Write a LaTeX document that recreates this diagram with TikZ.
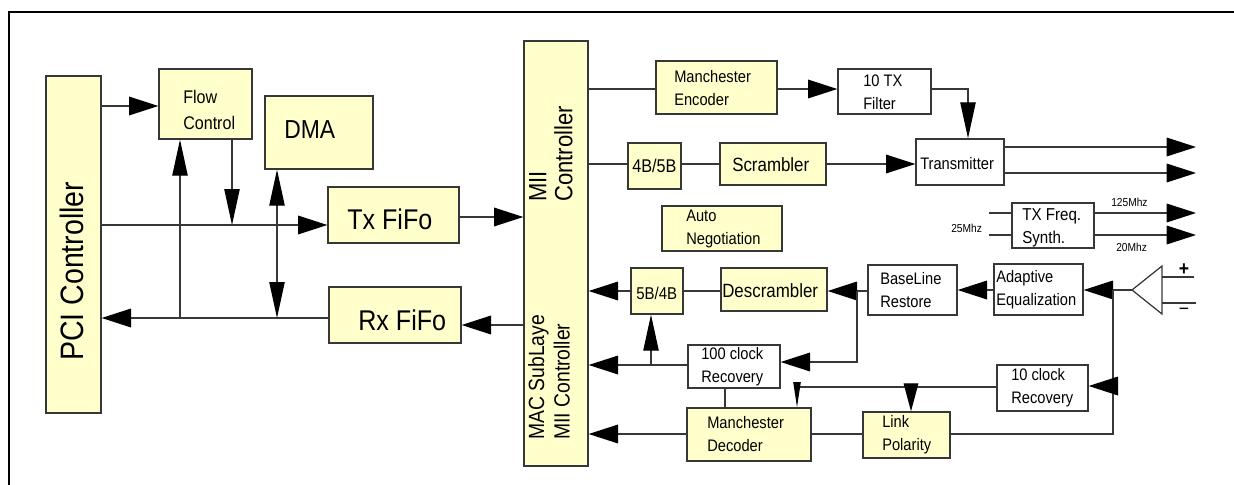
\documentclass[tikz,border=0pt]{standalone}
\usepackage{fontspec}
\setmainfont{Liberation Sans}[FakeStretch=0.88]
\usetikzlibrary{arrows.meta,fit}
\definecolor{boxyellow}{RGB}{255,255,204}
\definecolor{linegray}{RGB}{55,55,55}
\begin{document}
\begin{tikzpicture}[x=0.75pt,y=-0.75pt,
  blk/.style={draw=linegray, line width=1pt, fill=boxyellow, inner sep=0pt},
  wblk/.style={blk, fill=white},
  conn/.style={draw=linegray, line width=0.9pt},
  harr/.style={conn, -{Triangle[length=22pt,width=14pt,color=black]}},
  varr/.style={conn, -{Triangle[length=27pt,width=11.5pt,color=black]}},
  larr/.style={conn, -{Triangle[length=21pt,width=11pt,color=black]}},
  narr/.style={conn, -{Triangle[length=19pt,width=5.5pt,color=black]}},
  txt/.style={inner sep=0pt, anchor=west, align=left, font=\fontsize{12.5}{17}\selectfont},
]
\useasboundingbox (0,0) rectangle (1234,485);
% frame
\draw[line width=1.5pt] (9,485) -- (9,12) -- (1234,12);

% boxes
\node[blk, fit={(46,76) (101,413)}] (pci) {};
\node[blk, fit={(159,69) (252,139)}] (flow) {};
\node[blk, fit={(265,96) (373,169)}] (dma) {};
\node[blk, fit={(328,187) (459,243)}] (txf) {};
\node[blk, fit={(329,287) (461,343)}] (rxf) {};
\node[blk, fit={(524,41) (588,466)}] (mii) {};
\node[blk, fit={(656,61) (777,114)}] (menc) {};
\node[wblk, fit={(838,69) (931,114)}] (txfilt) {};
\node[wblk, fit={(916,139) (1004,185)}] (tx) {};
\node[blk, fit={(628,143) (681,189)}] (b45) {};
\node[blk, fit={(720,143) (826,185)}] (scr) {};
\node[blk, fit={(662,206) (782,251)}] (auto) {};
\node[wblk, fit={(1012,203) (1094,248)}] (synth) {};
\node[blk, fit={(721,268) (827,311)}] (desc) {};
\node[blk, fit={(631,268) (683,314)}] (b54) {};
\node[wblk, fit={(868,265) (957,315)}] (base) {};
\node[wblk, fit={(994,264) (1083,315)}] (adapt) {};
\node[wblk, fit={(688,345) (780,388)}] (clk100) {};
\node[blk, fit={(687,408) (811,461)}] (mdec) {};
\node[wblk, fit={(997,365) (1088,411)}] (clk10) {};
\node[blk, fit={(863,412) (950,458)}] (link) {};

% texts
\node[rotate=90, anchor=base west, inner sep=0pt, font=\fontsize{24.3}{28}\selectfont] (pcit) at (83,361) {PCI Controller};
\node[rotate=90, anchor=south west, inner sep=0pt, align=left, font=\fontsize{18.75}{19.5}\selectfont] (miit) at (573,202) {MII\\Controller};
\node[rotate=90, anchor=south west, inner sep=0pt, align=left, font=\fontsize{16.5}{19}\selectfont] (mact) at (570,440) {MAC SubLaye\\MII Controller};
\node[txt, font=\fontsize{13.7}{20}\selectfont] (flowt) at (183,110) {Flow\\Control};
\node[txt, font=\fontsize{19.5}{22}\selectfont] (dmat) at (284,130) {DMA};
\node[txt, font=\fontsize{21.4}{24}\selectfont] (txft) at (347,219) {Tx FiFo};
\node[txt, font=\fontsize{21.4}{24}\selectfont] (rxft) at (358,320) {Rx FiFo};
\node[txt] (menct) at (674,88) {Manchester\\Encoder};
\node[txt] (txfiltt) at (863,92) {10 TX\\Filter};
\node[txt] (txt) at (920,164) {Transmitter};
\node[txt, font=\fontsize{13.8}{16}\selectfont] (b45t) at (632,166) {4B/5B};
\node[txt, font=\fontsize{14.4}{16}\selectfont] (scrt) at (732,165) {Scrambler};
\node[txt] (autot) at (686,229) {Auto\\Negotiation};
\node[txt, font=\fontsize{12.9}{17}\selectfont] (syntht) at (1022,228) {TX Freq.\\Synth.};
\node[txt, font=\fontsize{8.7}{10}\selectfont] (l25) at (951,228) {25Mhz};
\node[txt, font=\fontsize{8.7}{10}\selectfont] (l125) at (1111,202) {125Mhz};
\node[txt, font=\fontsize{8.7}{10}\selectfont] (l20) at (1116,247) {20Mhz};
\node[txt, font=\fontsize{14.4}{16}\selectfont] (desct) at (722,291) {Descrambler};
\node[txt, font=\fontsize{12.8}{16}\selectfont] (b54t) at (636,293) {5B/4B};
\node[txt] (baset) at (880,290) {BaseLine\\Restore};
\node[txt] (adaptt) at (996,290) {Adaptive\\Equalization};
\node[txt] (clk100t) at (701,367) {100 clock\\Recovery};
\node[txt] (mdect) at (707,434) {Manchester\\Decoder};
\node[txt] (clk10t) at (1011,388) {10 clock\\Recovery};
\node[txt] (linkt) at (882,435) {Link\\Polarity};

% amplifier
\coordinate (amp) at (1132,290);
\draw[conn] (amp) -- (1162,266) -- (1162,314) -- cycle;
\draw[conn] (1162,277) -- (1194,277);
\draw[conn] (1162,303) -- (1196,303);
\node[inner sep=0pt, font=\fontsize{15}{15}\selectfont\bfseries] (plus) at (1184,270) {+};
\node[inner sep=0pt, font=\fontsize{15}{15}\selectfont] (minus) at (1184,312) {−};

% left part connectors
\draw[harr] (pci.east |- 0,106) -- (flow.west |- 0,106);
\draw[harr] (pci.east |- 0,225) -- (txf.west |- 0,225);
\coordinate (jf) at (232,225);
\draw[varr] (flow.south -| jf) -- (jf);
\draw[harr] (rxf.west |- 0,318) -- (pci.east |- 0,318);
\coordinate (jr1) at (180,318);
\draw[varr] (jr1) -- (flow.south -| jr1);
\coordinate (jr2) at (277,318);
\draw[conn, {Triangle[length=27pt,width=11.5pt,color=black]}-{Triangle[length=27pt,width=11.5pt,color=black]}] (jr2) -- (dma.south -| jr2);
\draw[harr] (txf.east |- 0,217) -- (mii.west |- 0,217);
\draw[harr] (mii.west |- 0,325) -- (rxf.east |- 0,325);

% upper right connectors
\draw[conn] (mii.east |- 0,89) -- (menc.west |- 0,89);
\draw[harr] (menc.east |- 0,89) -- (txfilt.west |- 0,89);
\draw[varr] (txfilt.east |- 0,89) -| (tx.north -| 968,0);
\draw[conn] (mii.east |- 0,164) -- (b45.west |- 0,164);
\draw[conn] (b45.east |- 0,164) -- (scr.west |- 0,164);
\draw[harr] (scr.east |- 0,164) -- (tx.west |- 0,164);
\coordinate (o1) at (1196,147);
\coordinate (o2) at (1196,173);
\draw[harr] (tx.east |- o1) -- (o1);
\draw[harr] (tx.east |- o2) -- (o2);
\coordinate (i1) at (989,213);
\coordinate (i2) at (989,235);
\draw[conn] (i1) -- (synth.west |- i1);
\draw[conn] (i2) -- (synth.west |- i2);
\coordinate (o3) at (1196,213);
\coordinate (o4) at (1196,235);
\draw[harr] (synth.east |- o3) -- (o3);
\draw[harr] (synth.east |- o4) -- (o4);

% lower right connectors
\coordinate (jv) at (1113,290);
\draw[conn] (amp) -- (jv);
\draw[harr] (jv) -- (adapt.east |- jv);
\draw[conn] (jv) -- (jv |- 0,434) -- (link.east |- 0,434);
\draw[harr] (jv |- 0,386) -- (clk10.east |- 0,386);
\draw[harr] (adapt.west |- 0,290) -- (base.east |- 0,290);
\draw[harr] (base.west |- 0,291) -- (desc.east |- 0,291);
\draw[conn] (desc.west |- 0,291) -- (b54.east |- 0,291);
\draw[harr] (b54.west |- 0,291) -- (mii.east |- 0,291);
\coordinate (jd) at (857,291);
\draw[harr] (jd) |- (clk100.east |- 0,362);
\draw[harr] (clk100.west |- 0,365) -- (mii.east |- 0,365);
\coordinate (jc) at (651,365);
\draw[varr] (jc) -- (b54.south -| jc);
\draw[conn] (clk100.south -| 725,0) -- (mdec.north -| 725,0);
\draw[harr] (mdec.west |- 0,434) -- (mii.east |- 0,434);
\draw[conn] (link.west |- 0,434) -- (mdec.east |- 0,434);
\coordinate (jk) at (911,387);
\draw[narr] (clk10.west |- jk) -| (mdec.north -| 797,0);
\draw[larr] (jk) -- (link.north -| jk);
\end{tikzpicture}
\end{document}
